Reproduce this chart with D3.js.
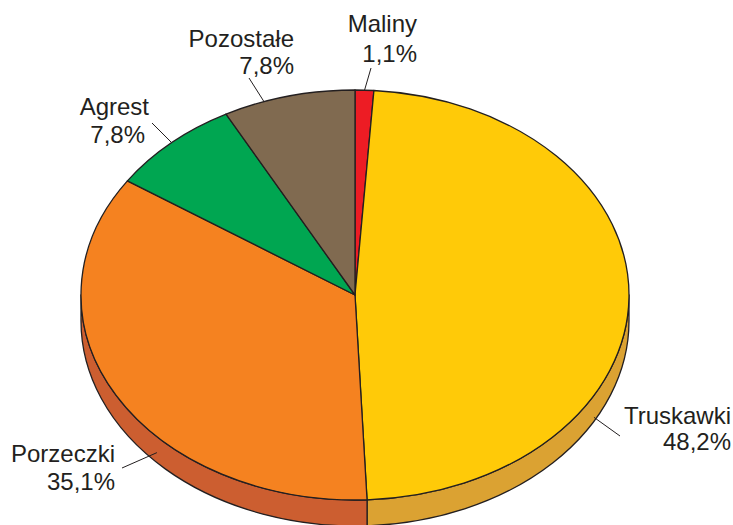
<!DOCTYPE html>
<html>
<head>
<meta charset="utf-8">
<script src="https://cdn.jsdelivr.net/npm/d3@7"></script>
<style>
  html, body { margin: 0; padding: 0; background: #fff; }
  svg { display: block; }
  text { font-family: "Liberation Sans", Arial, Helvetica, sans-serif; fill: #231F20; }
</style>
</head>
<body>
<svg id="chart" width="733" height="525"></svg>
<script>
// ---- data ----
const categories = ["Maliny", "Truskawki", "Porzeczki", "Agrest", "Pozostałe"];
const values = [1.1, 48.2, 35.1, 7.8, 7.8];
const valueLabels = ["1,1%", "48,2%", "35,1%", "7,8%", "7,8%"];
const topColors = ["#ED1C24", "#FFCA08", "#F58220", "#00A651", "#806A50"];
const sideColors = ["#B5151B", "#DBA232", "#CC5E30", "#00803E", "#62523D"];

// ---- layout ----
const W = 733, H = 525;
const cx = 355, cy = 295, rx = 274, ry = 205, depth = 26;
const stroke = "#231F20";

// label layout: text anchor (right aligned), leader inner (angle deg, depth offset), leader outer point
const labelLayout = {
  "Maliny":    { x: 417, x2: 417, y1: 32,  y2: 62,  ang: 2,     dz: 0,  outer: [371, 68] },
  "Pozostałe": { x: 294, x2: 294, y1: 47,  y2: 74,  ang: 340.6, dz: 0,  outer: [249, 78] },
  "Agrest":    { x: 149, x2: 145, y1: 115, y2: 143, ang: 318,   dz: 0,  outer: [152, 123] },
  "Porzeczki": { x: 115, x2: 115, y1: 462, y2: 490, ang: 226.3, dz: 16, outer: [122, 468] },
  "Truskawki": { x: 731, x2: 731, y1: 424, y2: 450, ang: 119.3, dz: 22, outer: [620, 436] }
};

const data = categories.map((c, i) => ({ name: c, value: values[i], label: valueLabels[i], top: topColors[i], side: sideColors[i] }));

const svg = d3.select("#chart");

const pie = d3.pie().sort(null).value(d => d.value).startAngle(0).endAngle(2 * Math.PI);
const arcs = pie(data);

// point on ellipse for angle (clockwise from top)
const pt = (a, dz) => [cx + rx * Math.sin(a), cy - ry * Math.cos(a) + (dz || 0)];
const P = p => p[0].toFixed(2) + "," + p[1].toFixed(2);

// ---- side (3D depth), visible for front half ----
const gSide = svg.append("g");
arcs.forEach(a => {
  const s = Math.max(a.startAngle, Math.PI / 2);
  const e = Math.min(a.endAngle, 3 * Math.PI / 2);
  if (s >= e) return;
  const large = (e - s) > Math.PI ? 1 : 0;
  const d = "M" + P(pt(s, 0)) +
    " A" + rx + "," + ry + " 0 " + large + " 1 " + P(pt(e, 0)) +
    " L" + P(pt(e, depth)) +
    " A" + rx + "," + ry + " 0 " + large + " 0 " + P(pt(s, depth)) + " Z";
  gSide.append("path")
    .attr("d", d)
    .attr("fill", a.data.side)
    .attr("stroke", stroke)
    .attr("stroke-width", 1.3)
    .attr("stroke-linejoin", "round");
});

// ---- top faces with d3.arc in a scaled group ----
const arcGen = d3.arc().innerRadius(0).outerRadius(rx);
const gTop = svg.append("g")
  .attr("transform", `translate(${cx},${cy}) scale(1,${ry / rx})`);
gTop.selectAll("path")
  .data(arcs)
  .join("path")
  .attr("d", arcGen)
  .attr("fill", d => d.data.top)
  .attr("stroke", stroke)
  .attr("stroke-width", 1.3)
  .attr("stroke-linejoin", "round")
  .attr("vector-effect", "non-scaling-stroke");

// ---- labels & leader lines ----
const gLab = svg.append("g");
data.forEach(d => {
  const L = labelLayout[d.name];
  const inner = pt(L.ang * Math.PI / 180, L.dz);
  gLab.append("path")
    .attr("d", d3.line()([inner, L.outer]))
    .attr("stroke", stroke)
    .attr("stroke-width", 1)
    .attr("fill", "none");
  const t = gLab.append("text")
    .attr("text-anchor", "end")
    .attr("font-size", 24);
  t.append("tspan").attr("x", L.x).attr("y", L.y1).text(d.name);
  t.append("tspan").attr("x", L.x2).attr("y", L.y2).text(d.label);
});
</script>
</body>
</html>
